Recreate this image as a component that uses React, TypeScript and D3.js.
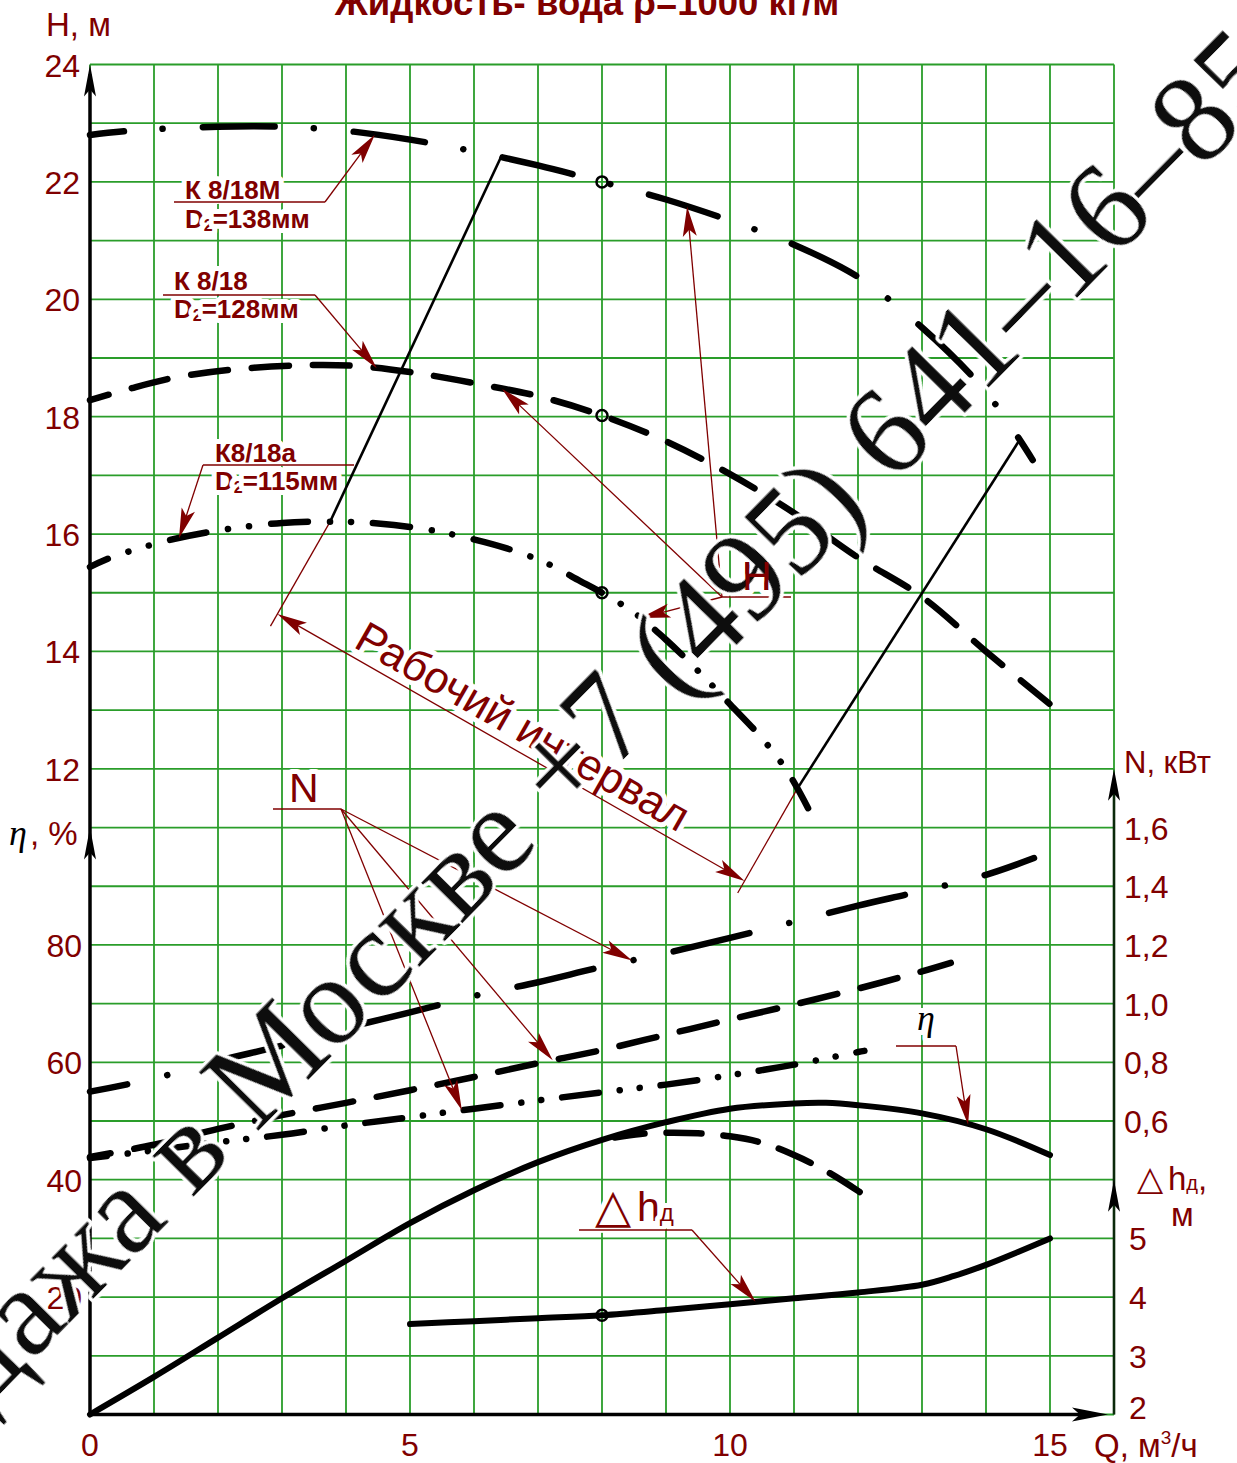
// Характеристика насоса К 8/18 — H, N, η, Δh от Q
import React from "react";
import * as d3 from "d3";

// ---- tick labels ----
const qTicks = [0, 5, 10, 15];
const hTicks = [12, 14, 16, 18, 20, 22, 24];
const etaTicks = [20, 40, 60, 80];
const nTicks = [0.6, 0.8, 1.0, 1.2, 1.4, 1.6];
const dhTicks = [2, 3, 4, 5];

// ---- напор H, м ----
// К 8/18М, D2 = 138 мм
const q138 = [0, 0.6, 2, 3, 4, 5, 6, 7, 8, 9, 10, 11, 12, 13, 14, 14.73];
const h138 = [22.8, 22.87, 22.94, 22.94, 22.87, 22.72, 22.52, 22.28, 22.0, 21.7, 21.34, 20.93, 20.38, 19.52, 18.42, 17.26];
// К 8/18, D2 = 128 мм
const q128 = [0, 0.6, 1.3, 2.3, 3.5, 4.2, 5, 6, 7, 8, 9, 10, 11, 12, 13, 14, 15];
const h128 = [18.28, 18.47, 18.66, 18.81, 18.88, 18.86, 18.76, 18.57, 18.35, 18.02, 17.58, 17.02, 16.36, 15.6, 14.93, 14.0, 13.1];
// К8/18а, D2 = 115 мм
const q115 = [0, 0.35, 1.25, 2, 3, 3.9, 4.5, 5.2, 5.8, 6.5, 7.1, 7.66, 8, 8.5, 9, 9.5, 10, 10.5, 10.9, 11.22];
const h115 = [15.44, 15.61, 15.9, 16.06, 16.19, 16.21, 16.18, 16.09, 15.96, 15.76, 15.52, 15.2, 15.0, 14.66, 14.2, 13.67, 13.1, 12.52, 11.95, 11.33];

// ---- мощность N, кВт ----
const qN138 = [0, 1, 2, 3, 4, 5, 6, 7, 8, 9, 10, 11, 12, 13, 14, 14.75];
const n138 = [0.7, 0.745, 0.805, 0.857, 0.917, 0.97, 1.026, 1.073, 1.125, 1.172, 1.224, 1.279, 1.334, 1.384, 1.439, 1.496];
const qN128 = [0, 1, 2, 3, 4, 5, 6, 7, 8, 9, 10, 11, 12, 13, 13.45];
const n128 = [0.478, 0.519, 0.573, 0.62, 0.662, 0.705, 0.75, 0.797, 0.842, 0.894, 0.946, 0.997, 1.051, 1.11, 1.139];
const qN115 = [0, 1, 2, 3, 4, 5, 6, 7, 8, 9, 10, 11, 12, 12.1];
const n115 = [0.474, 0.5, 0.528, 0.553, 0.585, 0.613, 0.642, 0.67, 0.698, 0.724, 0.756, 0.792, 0.835, 0.839];

// ---- КПД η, % ----
const qEta = [0, 1, 2, 3, 4, 5, 6, 7, 8, 9, 10, 11, 11.5, 12, 13, 14, 15];
const eta = [0, 6.4, 13.1, 19.8, 26.2, 32.6, 38.2, 43.0, 46.8, 49.8, 52.1, 53.0, 53.1, 52.7, 51.3, 48.6, 44.2];
const qEta2 = [8.2, 8.6, 9, 9.5, 10, 10.5, 11, 11.5, 12, 12.13];
const eta2 = [47.2, 47.8, 48.0, 47.9, 47.4, 46.3, 44.2, 41.5, 38.1, 37.1];

// ---- допускаемый кавитационный запас Δh, м ----
const qDh = [5, 6, 7, 8, 9, 10, 11, 12, 13, 13.5, 14, 14.5, 15];
const dh = [3.54, 3.59, 3.64, 3.69, 3.78, 3.88, 3.98, 4.08, 4.21, 4.36, 4.55, 4.77, 5.0];

// рабочий интервал: Q на кривой 138 мм (верх) и 115 мм (низ)
const workLeft = [6.42, 3.75];
const workRight = [14.52, 11.05];
const qMark = 8;

const MAROON = "#800000";
const GRID = "#2a9d2a";
const SANS = "'Liberation Sans', Arial, Helvetica, sans-serif";
const SERIF = "'Liberation Serif', 'Times New Roman', serif";
const SYM = "'DejaVu Sans', sans-serif";

// scales
const x = d3.scaleLinear([0, 16], [90, 1114]);
const rowY = d3.scaleLinear([0, 23], [64.5, 1414.5]);
const yH = d3.scaleLinear([24, 1], [64.5, 1414.5]);
const yEta = d3.scaleLinear([230, 0], [64.5, 1414.5]);
const yN = d3.scaleLinear([4.2, -0.4], [64.5, 1414.5]);
const yDh = d3.scaleLinear([25, 2], [64.5, 1414.5]);

const onCurve = (qs: number[], vs: number[], y: (v: number) => number, q: number): [number, number] =>
  [x(q), y(d3.scaleLinear(qs, vs)(q))];

function Curve({ qs, vs, y, dash, offset = 0, w = 6.5 }: any) {
  const line = d3.line<number>((_, i) => x(qs[i]), (d) => y(d)).curve(d3.curveCatmullRom.alpha(0.5));
  return (
    <path d={line(vs) || ""} fill="none" stroke="#000" strokeWidth={w} strokeLinecap="round"
      strokeLinejoin="round" strokeDasharray={dash} strokeDashoffset={offset} />
  );
}

function Head({ tip, dir, color, L = 30, w = 7 }: any) {
  const a = Math.atan2(dir[1], dir[0]);
  const ux = Math.cos(a), uy = Math.sin(a), px = -uy, py = ux;
  const bx = tip[0] - ux * L, by = tip[1] - uy * L;
  const nx = tip[0] - ux * L * 0.78, ny = tip[1] - uy * L * 0.78;
  return <path d={`M${tip[0]},${tip[1]}L${bx + px * w},${by + py * w}L${nx},${ny}L${bx - px * w},${by - py * w}Z`} fill={color} />;
}

function Leader({ from, to }: any) {
  const dx = to[0] - from[0], dy = to[1] - from[1];
  const len = Math.hypot(dx, dy);
  const e = [to[0] - (dx / len) * 20, to[1] - (dy / len) * 20];
  return (
    <g>
      <line x1={from[0]} y1={from[1]} x2={e[0]} y2={e[1]} stroke={MAROON} strokeWidth={1.3} />
      <Head tip={to} dir={[dx, dy]} color={MAROON} />
    </g>
  );
}

const halo = { stroke: "#fff", strokeWidth: 10, paintOrder: "stroke" as const, strokeLinejoin: "round" as const };

export default function App() {
  const cols = d3.range(0, 17);
  const rows = d3.range(0, 24);

  // рабочий интервал
  const tl = onCurve(q138, h138, yH, workLeft[0]);
  const bl = onCurve(q115, h115, yH, workLeft[1]);
  const tr = onCurve(q138, h138, yH, workRight[0]);
  const br = onCurve(q115, h115, yH, workRight[1]);
  const vx = br[0] - bl[0], vy = br[1] - bl[1];
  const vl = Math.hypot(vx, vy);
  const ux = vx / vl, uy = vy / vl;
  const nx = uy, ny = -ux; // нормаль (вверх-вправо)
  const off = 106;
  const dl = [bl[0] - nx * off, bl[1] - ny * off];
  const dr = [br[0] - nx * off, br[1] - ny * off];
  const ang = (Math.atan2(vy, vx) * 180) / Math.PI;
  const mid = [(dl[0] + dr[0]) / 2 + nx * 9, (dl[1] + dr[1]) / 2 + ny * 9];

  const hAnchor = [722, 597];
  const nAnchor = [341, 809];

  return (
    <svg width={1237} height={1463} viewBox="0 0 1237 1463"
      style={{ position: "absolute", left: 0, top: 0, background: "#fff" }}>
      <defs>
        <filter id="soft" x="-5%" y="-5%" width="110%" height="110%">
          <feGaussianBlur stdDeviation={0.7} />
        </filter>
      </defs>
      <rect width={1237} height={1463} fill="#fff" />

      {/* title, clipped at top */}
      <text x={592} y={15} textAnchor="middle" fontFamily={SANS} fontWeight="bold" fontSize={36.5} fill={MAROON}>
        Жидкость- вода ρ=1000 кг/м<tspan fontSize={18} dy={-16}>3</tspan>
      </text>

      {/* grid */}
      <g stroke={GRID} strokeWidth={1.8}>
        {cols.map((c) => <line key={"c" + c} x1={x(c)} x2={x(c)} y1={rowY(0)} y2={rowY(23)} />)}
        {rows.map((r) => <line key={"r" + r} x1={x(0)} x2={x(16)} y1={rowY(r)} y2={rowY(r)} />)}
      </g>

      {/* curve labels (white halo cuts the grid) */}
      <g fontFamily={SANS} fontWeight="bold" fontSize={26} fill={MAROON} {...halo}>
        <text x={185} y={199}>К 8/18М</text>
        <text x={185} y={228}>D<tspan fontSize={16} dy={3}>2</tspan><tspan dy={-3}>=138мм</tspan></text>
        <text x={174} y={290}>К 8/18</text>
        <text x={174} y={318}>D<tspan fontSize={16} dy={3}>2</tspan><tspan dy={-3}>=128мм</tspan></text>
        <text x={215} y={462}>К8/18а</text>
        <text x={215} y={490}>D<tspan fontSize={16} dy={3}>2</tspan><tspan dy={-3}>=115мм</tspan></text>
      </g>
      <g fontFamily={SANS} fill={MAROON} {...halo}>
        <text x={289} y={802} fontSize={41}>N</text>
        <text x={742} y={590} fontSize={41}>H</text>
        <text x={mid[0]} y={mid[1]} fontSize={44} textAnchor="middle"
          transform={`rotate(${ang},${mid[0]},${mid[1]})`}>Рабочий интервал</text>
        <text x={637} y={1221} fontSize={41}>h<tspan fontSize={24}>д</tspan></text>
        <text x={595} y={1222} fontSize={47} fontFamily={SYM}>△</text>
      </g>
      <text x={917} y={1030} fontSize={36} fontFamily={SERIF} fontStyle="italic" fill="#000" {...halo}>η</text>

      {/* рабочий интервал */}
      <g stroke="#000" strokeWidth={2.6}>
        <line x1={tl[0]} y1={tl[1]} x2={bl[0]} y2={bl[1]} />
        <line x1={tr[0]} y1={tr[1]} x2={br[0]} y2={br[1]} />
      </g>
      <g stroke={MAROON} strokeWidth={1.3}>
        <line x1={bl[0]} y1={bl[1]} x2={bl[0] - nx * (off + 14)} y2={bl[1] - ny * (off + 14)} />
        <line x1={br[0]} y1={br[1]} x2={br[0] - nx * (off + 14)} y2={br[1] - ny * (off + 14)} />
        <line x1={dl[0] + ux * 20} y1={dl[1] + uy * 20} x2={dr[0] - ux * 20} y2={dr[1] - uy * 20} />
      </g>
      <Head tip={dl} dir={[-ux, -uy]} color={MAROON} />
      <Head tip={dr} dir={[ux, uy]} color={MAROON} />

      {/* H curves */}
      <Curve qs={q138} vs={h138} y={yH} dash="72 39 0.1 40" offset={38} />
      <Curve qs={q128} vs={h128} y={yH} dash="37 24" offset={17.5} />
      <Curve qs={q115} vs={h115} y={yH} dash="37 22 0.1 21 0.1 22" offset={17.5} />

      {/* N curves */}
      <Curve qs={qN138} vs={n138} y={yN} dash="78 41 0.1 41" offset={40} />
      <Curve qs={qN128} vs={n128} y={yN} dash="38 24" offset={17} />
      <Curve qs={qN115} vs={n115} y={yN} dash="37 21 0.1 20 0.1 21" offset={20} />

      {/* η curves */}
      <Curve qs={qEta} vs={eta} y={yEta} w={6} />
      <Curve qs={qEta2} vs={eta2} y={yEta} dash="35 22" offset={5} />

      {/* Δh */}
      <Curve qs={qDh} vs={dh} y={yDh} w={6} />

      {/* markers at Q = 8 */}
      <g fill="none" stroke="#000" strokeWidth={2.5}>
        {[onCurve(q138, h138, yH, qMark), onCurve(q128, h128, yH, qMark), onCurve(q115, h115, yH, qMark),
          onCurve(qDh, dh, yDh, qMark)].map((p, i) => <circle key={i} cx={p[0]} cy={p[1]} r={5.5} />)}
      </g>

      {/* leaders */}
      <g stroke={MAROON} strokeWidth={1.3} fill="none">
        <polyline points="174,202 325,202" />
        <polyline points="163,295 315,295" />
        <polyline points="354,465 203,465" />
        <polyline points={`${hAnchor[0]},${hAnchor[1]} 791,${hAnchor[1]}`} />
        <polyline points={`273,${nAnchor[1]} ${nAnchor[0]},${nAnchor[1]}`} />
        <polyline points="896,1046 956,1046" />
        <polyline points="579,1230 692,1230" />
      </g>
      <Leader from={[325, 202]} to={onCurve(q138, h138, yH, 4.45)} />
      <Leader from={[315, 295]} to={onCurve(q128, h128, yH, 4.48)} />
      <Leader from={[203, 465]} to={onCurve(q115, h115, yH, 1.39)} />
      <Leader from={hAnchor} to={onCurve(q138, h138, yH, 9.33)} />
      <Leader from={hAnchor} to={onCurve(q128, h128, yH, 6.44)} />
      <Leader from={hAnchor} to={onCurve(q115, h115, yH, 8.6)} />
      <Leader from={nAnchor} to={onCurve(qN138, n138, yN, 8.47)} />
      <Leader from={nAnchor} to={onCurve(qN128, n128, yN, 7.23)} />
      <Leader from={nAnchor} to={onCurve(qN115, n115, yN, 5.81)} />
      <Leader from={[956, 1046]} to={onCurve(qEta, eta, yEta, 13.72)} />
      <Leader from={[692, 1230]} to={onCurve(qDh, dh, yDh, 10.4)} />

      {/* axes */}
      <line x1={x(0)} x2={x(0)} y1={rowY(23)} y2={rowY(0) + 10} stroke="#000" strokeWidth={3.5} />
      <Head tip={[x(0), rowY(0)]} dir={[0, -1]} color="#000" L={32} w={6} />
      <Head tip={[x(0), rowY(13)]} dir={[0, -1]} color="#000" L={32} w={6} />
      <line x1={x(0)} x2={1095} y1={rowY(23)} y2={rowY(23)} stroke="#000" strokeWidth={3.5} />
      <Head tip={[1108, rowY(23)]} dir={[1, 0]} color="#000" L={36} w={7} />
      <line x1={x(16)} x2={x(16)} y1={rowY(23)} y2={rowY(12) + 10} stroke="#0b2a0b" strokeWidth={2.6} />
      <Head tip={[x(16), rowY(12)]} dir={[0, -1]} color="#000" L={32} w={6} />
      <Head tip={[x(16), rowY(19)]} dir={[0, -1]} color="#000" L={32} w={6} />

      {/* tick labels */}
      <g fontFamily={SANS} fontSize={32} fill={MAROON}>
        {hTicks.map((h) => <text key={"h" + h} x={80} y={yH(h) + 12} textAnchor="end">{h}</text>)}
        {etaTicks.map((e) => <text key={"e" + e} x={82} y={yEta(e) + 12} textAnchor="end">{e}</text>)}
        {qTicks.map((q) => <text key={"q" + q} x={x(q)} y={1456} textAnchor="middle">{q}</text>)}
        {nTicks.map((n) => <text key={"n" + n} x={1124} y={yN(n) + 12}>{n.toFixed(1).replace(".", ",")}</text>)}
        {dhTicks.map((d) => <text key={"d" + d} x={1129} y={Math.min(yDh(d), 1407) + 12}>{d}</text>)}
      </g>

      {/* axis titles */}
      <g fontFamily={SANS} fill={MAROON} fontSize={33}>
        <text x={46} y={36}>H, м</text>
        <text x={30} y={845}>, %</text>
        <text x={1094} y={1457}>Q, м<tspan fontSize={19} dy={-13}>3</tspan><tspan dy={13}>/ч</tspan></text>
        <text x={1124} y={773} fontSize={31}>N, кВт</text>
        <text x={1168} y={1190} fontSize={33}>h<tspan fontSize={20}>д</tspan>,</text>
        <text x={1137} y={1190} fontSize={34} fontFamily={SYM}>△</text>
        <text x={1171} y={1226} fontSize={33}>м</text>
      </g>
      <text x={9} y={845} fontFamily={SERIF} fontStyle="italic" fontSize={36} fill="#000">η</text>

      {/* watermark */}
      <g transform="translate(613,770) rotate(-45.5)" fontFamily={SERIF} fontSize={126} fill="#111"
        stroke="#fff" strokeWidth={7} style={{ paintOrder: "stroke" }} strokeLinejoin="round" filter="url(#soft)">
        <text x={0} y={0} textAnchor="end">Продажа в Москве +</text>
        <text x={0} y={0}>7 (495) 641–16–85</text>
      </g>

      {/* label H sits over the watermark */}
      <text x={742} y={590} fontSize={41} fontFamily={SANS} fill={MAROON}>H</text>
    </svg>
  );
}
